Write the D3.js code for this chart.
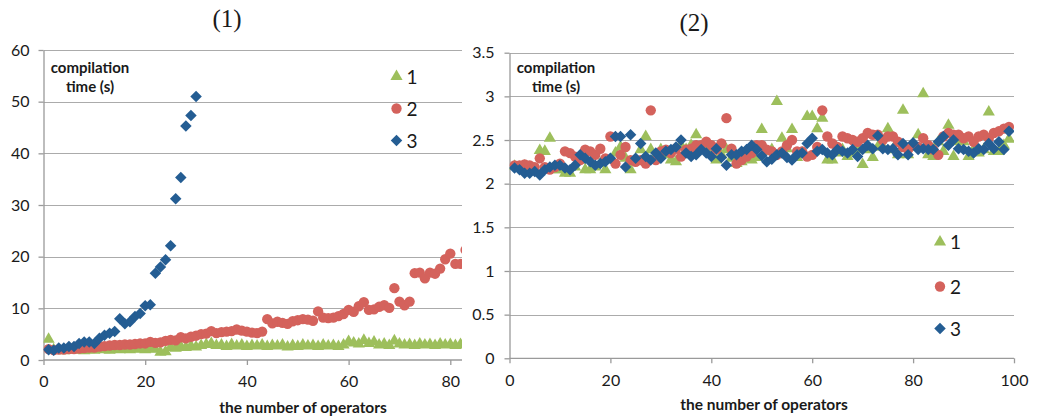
<!DOCTYPE html>
<html>
<head>
<meta charset="utf-8">
<script src="https://cdn.jsdelivr.net/npm/d3@7"></script>
<style>
  html, body { margin: 0; padding: 0; background: #ffffff; }
  svg { display: block; }
  text { font-family: Lato, "Open Sans", sans-serif; fill: #1a1a1a; }
</style>
</head>
<body>
<svg id="chart" width="1037" height="420"></svg>
<script>
// ---- Panel (1): compilation time, operators 1..83 ----
const p1Series1 = [4.0, 2.0, 1.9, 1.8, 2.0, 1.9, 2.1, 1.8, 2.0, 1.9, 2.1, 2.0, 1.9, 2.2, 2.0, 2.1, 2.0, 2.2, 2.1, 2.0,
  2.2, 2.1, 1.5, 1.6, 2.4, 2.3, 2.6, 2.4, 2.7, 2.5, 2.8, 3.0, 3.2, 2.8, 2.9, 2.6, 3.0, 2.7, 2.9, 2.6,
  2.8, 2.7, 2.9, 2.6, 2.8, 2.7, 2.9, 2.5, 2.8, 2.6, 2.9, 2.7, 2.8, 2.6, 2.9, 2.7, 2.8, 2.6, 2.9, 3.6,
  3.3, 3.1, 3.8, 3.2, 3.5, 2.9, 3.1, 2.8, 3.7, 3.1, 2.9, 3.0, 2.8, 3.1, 2.9, 3.0, 2.8, 3.1, 2.9, 3.0,
  2.8, 3.0, 2.9];
const p1Series2 = [2.1, 1.9, 2.0, 2.0, 2.1, 2.1, 2.2, 2.3, 2.4, 2.4, 2.6, 2.7, 2.8, 2.9, 2.9, 3.0, 3.0, 3.1, 3.2, 3.2,
  3.5, 3.3, 3.4, 3.7, 3.9, 3.8, 4.4, 4.2, 4.5, 4.7, 5.0, 5.1, 5.6, 5.2, 5.4, 5.5, 5.6, 5.9, 5.7, 5.5,
  5.3, 5.2, 5.5, 7.9, 7.1, 7.4, 7.2, 7.0, 7.5, 7.7, 7.9, 7.8, 7.6, 9.4, 8.2, 8.1, 8.2, 8.5, 8.9, 9.7,
  9.3, 10.4, 11.2, 9.7, 9.8, 10.3, 10.6, 10.1, 13.9, 11.3, 10.6, 11.3, 16.8, 16.9, 15.8, 16.9, 16.7, 17.7, 19.5, 20.6,
  18.6, 18.6, 21.3];
const p1Series3 = [2.0, 1.9, 2.3, 2.3, 2.6, 2.6, 3.2, 3.5, 3.5, 3.2, 4.2, 4.8, 5.2, 5.5, 8.0, 7.0, 7.4, 8.4, 9.0, 10.5,
  10.7, 16.8, 18.0, 19.4, 22.1, 31.2, 35.3, 45.3, 47.3, 51.0];
const p1XTicks = [0, 20, 40, 60, 80];
const p1YTicks = [0, 10, 20, 30, 40, 50, 60];

// ---- Panel (2): compilation time, operators 1..99 ----
const p2Series1 = [2.20, 2.18, 2.20, 2.17, 2.16, 2.38, 2.37, 2.52, 2.16, 2.16, 2.12, 2.12, 2.19, 2.27, 2.16, 2.16, 2.19, 2.23, 2.16, 2.27,
  2.35, 2.42, 2.29, 2.16, 2.27, 2.39, 2.54, 2.39, 2.33, 2.39, 2.33, 2.27, 2.25, 2.44, 2.39, 2.44, 2.56, 2.42, 2.39, 2.40,
  2.27, 2.33, 2.39, 2.29, 2.23, 2.25, 2.29, 2.27, 2.30, 2.62, 2.37, 2.39, 2.94, 2.52, 2.40, 2.62, 2.30, 2.35, 2.77, 2.77,
  2.63, 2.75, 2.27, 2.27, 2.35, 2.39, 2.31, 2.35, 2.39, 2.22, 2.39, 2.30, 2.42, 2.42, 2.63, 2.39, 2.33, 2.84, 2.33, 2.42,
  2.56, 3.03, 2.33, 2.31, 2.48, 2.37, 2.67, 2.31, 2.48, 2.48, 2.31, 2.39, 2.35, 2.39, 2.82, 2.37, 2.37, 2.44, 2.51];
const p2Series2 = [2.21, 2.21, 2.22, 2.21, 2.19, 2.29, 2.19, 2.16, 2.19, 2.23, 2.37, 2.35, 2.31, 2.27, 2.39, 2.37, 2.33, 2.40, 2.29, 2.54,
  2.23, 2.33, 2.42, 2.27, 2.25, 2.27, 2.23, 2.84, 2.27, 2.37, 2.39, 2.35, 2.40, 2.31, 2.39, 2.40, 2.44, 2.44, 2.48, 2.44,
  2.39, 2.46, 2.75, 2.40, 2.23, 2.27, 2.31, 2.35, 2.44, 2.44, 2.39, 2.37, 2.33, 2.37, 2.44, 2.50, 2.37, 2.37, 2.31, 2.33,
  2.42, 2.84, 2.54, 2.46, 2.42, 2.54, 2.52, 2.50, 2.48, 2.52, 2.58, 2.56, 2.56, 2.50, 2.54, 2.54, 2.48, 2.42, 2.39, 2.44,
  2.42, 2.52, 2.44, 2.39, 2.33, 2.54, 2.58, 2.56, 2.56, 2.52, 2.54, 2.48, 2.54, 2.56, 2.52, 2.58, 2.60, 2.63, 2.65];
const p2Series3 = [2.18, 2.16, 2.12, 2.12, 2.14, 2.10, 2.16, 2.19, 2.21, 2.21, 2.18, 2.16, 2.21, 2.33, 2.29, 2.25, 2.21, 2.23, 2.25, 2.29,
  2.54, 2.54, 2.19, 2.56, 2.29, 2.46, 2.31, 2.27, 2.35, 2.29, 2.37, 2.39, 2.42, 2.50, 2.35, 2.31, 2.33, 2.39, 2.35, 2.31,
  2.40, 2.30, 2.21, 2.33, 2.33, 2.37, 2.39, 2.44, 2.39, 2.32, 2.25, 2.28, 2.33, 2.35, 2.30, 2.27, 2.33, 2.35, 2.46, 2.52,
  2.37, 2.39, 2.35, 2.33, 2.39, 2.37, 2.35, 2.39, 2.31, 2.39, 2.44, 2.40, 2.55, 2.40, 2.39, 2.40, 2.33, 2.46, 2.33, 2.47,
  2.39, 2.40, 2.39, 2.39, 2.48, 2.54, 2.44, 2.50, 2.40, 2.39, 2.37, 2.35, 2.40, 2.39, 2.46, 2.40, 2.48, 2.39, 2.60];
const p2XTicks = [0, 20, 40, 60, 80, 100];
const p2YTicks = [0, 0.5, 1, 1.5, 2, 2.5, 3, 3.5];

const seriesNames = ["1", "2", "3"];
const seriesColors = ["#9dbf5c", "#d4625c", "#245d93"];
const titles = ["(1)", "(2)"];
const yLabelLines = ["compilation", "time (s)"];
const xLabel = "the number of operators";

const svg = d3.select("#chart");
svg.append("rect").attr("width", 1037).attr("height", 420).attr("fill", "#ffffff");

const GRID = "#ababab";
const AXIS = "#9a9a9a";

// marker generators: triangle, circle, diamond (rotated square)
const markers = [
  d3.symbol().type(d3.symbolTriangle).size(64),
  d3.symbol().type(d3.symbolCircle).size(84),
  d3.symbol().type(d3.symbolSquare).size(66)
];
const markerRotate = [0, 0, 45];

function drawPanel(cfg) {
  const g = svg.append("g");
  const x = d3.scaleLinear().domain(cfg.xDomain).range(cfg.xRange);
  const y = d3.scaleLinear().domain(cfg.yDomain).range(cfg.yRange);
  const [x0, x1] = cfg.xRange;
  const [yb, yt] = cfg.yRange;

  // horizontal gridlines
  g.append("g").selectAll("line")
    .data(cfg.yTicks.filter(v => v !== cfg.yDomain[0]))
    .join("line")
    .attr("x1", x0).attr("x2", x1)
    .attr("y1", d => Math.round(y(d)) + 0.5).attr("y2", d => Math.round(y(d)) + 0.5)
    .attr("stroke", GRID).attr("stroke-width", 1.2);

  // axes
  const yAxis = d3.axisLeft(y).tickValues(cfg.yTicks).tickSize(5).tickSizeOuter(0)
    .tickPadding(cfg.yPad).tickFormat(d3.format(""));
  const xAxis = d3.axisBottom(x).tickValues(cfg.xTicks).tickSize(5).tickSizeOuter(0)
    .tickPadding(11).tickFormat(d3.format(""));

  const ya = g.append("g").attr("transform", `translate(${x0},0)`).call(yAxis);
  const xa = g.append("g").attr("transform", `translate(0,${yb})`).call(xAxis);
  [ya, xa].forEach(a => {
    a.select(".domain").attr("stroke", AXIS).attr("stroke-width", 1.3);
    a.selectAll(".tick line").attr("stroke", AXIS).attr("stroke-width", 1.3);
    a.selectAll(".tick text").attr("font-family", "Lato, sans-serif")
      .attr("font-size", 16).attr("fill", "#1a1a1a");
  });
  xa.select(".domain").attr("d", `M${x0},0H${x1}`);

  // plotted points, clipped to the plot area
  const clipId = "clip" + cfg.id;
  svg.append("clipPath").attr("id", clipId)
    .append("rect").attr("x", x0).attr("y", yt - 10)
    .attr("width", x1 - x0).attr("height", yb - yt + 20);
  const plot = g.append("g").attr("clip-path", `url(#${clipId})`);

  cfg.series.forEach((vals, si) => {
    plot.append("g").selectAll("path")
      .data(vals.map((v, i) => ({ n: i + 1, v })))
      .join("path")
      .attr("d", markers[si])
      .attr("transform", d => `translate(${x(d.n)},${y(d.v)}) rotate(${markerRotate[si]})`)
      .attr("fill", seriesColors[si]);
  });

  // panel title
  svg.append("text")
    .attr("x", cfg.titlePos[0]).attr("y", cfg.titlePos[1])
    .attr("text-anchor", "middle")
    .style("font-family", "'Liberation Serif', 'DejaVu Serif', serif")
    .attr("font-size", 25)
    .text(cfg.title);

  // y-axis caption inside the plot
  yLabelLines.forEach((t, i) => {
    svg.append("text")
      .attr("x", cfg.yLabelX).attr("y", 73 + i * 19)
      .attr("text-anchor", "middle")
      .attr("font-weight", "bold").attr("font-size", 15)
      .text(t);
  });

  // x-axis caption
  svg.append("text")
    .attr("x", cfg.xLabelPos[0]).attr("y", cfg.xLabelPos[1])
    .attr("text-anchor", "middle")
    .attr("font-weight", "bold").attr("font-size", 15.5)
    .text(xLabel);

  // legend
  const leg = svg.append("g");
  seriesNames.forEach((name, si) => {
    const cy = cfg.legendRows[si];
    leg.append("path")
      .attr("d", markers[si])
      .attr("transform", `translate(${cfg.legendX},${cy}) rotate(${markerRotate[si]})`)
      .attr("fill", seriesColors[si]);
    leg.append("text")
      .attr("x", cfg.legendX + 10).attr("y", cy + 7)
      .attr("font-size", 19)
      .text(name);
  });
}

drawPanel({
  id: 1,
  xDomain: [0, 82.3], xRange: [43.5, 462],
  yDomain: [0, 60], yRange: [360, 50],
  xTicks: p1XTicks, yTicks: p1YTicks, yPad: 9,
  series: [p1Series1, p1Series2, p1Series3],
  title: titles[0], titlePos: [227, 27],
  yLabelX: 90, xLabelPos: [303, 413],
  legendX: 396.5, legendRows: [76.5, 108.5, 140.5]
});

drawPanel({
  id: 2,
  xDomain: [0, 100], xRange: [509.5, 1014],
  yDomain: [0, 3.5], yRange: [358.3, 52.7],
  xTicks: p2XTicks, yTicks: p2YTicks, yPad: 10,
  series: [p2Series1, p2Series2, p2Series3],
  title: titles[1], titlePos: [694, 31],
  yLabelX: 556, xLabelPos: [764, 410],
  legendX: 940, legendRows: [242, 286.5, 328.5]
});
</script>
</body>
</html>
